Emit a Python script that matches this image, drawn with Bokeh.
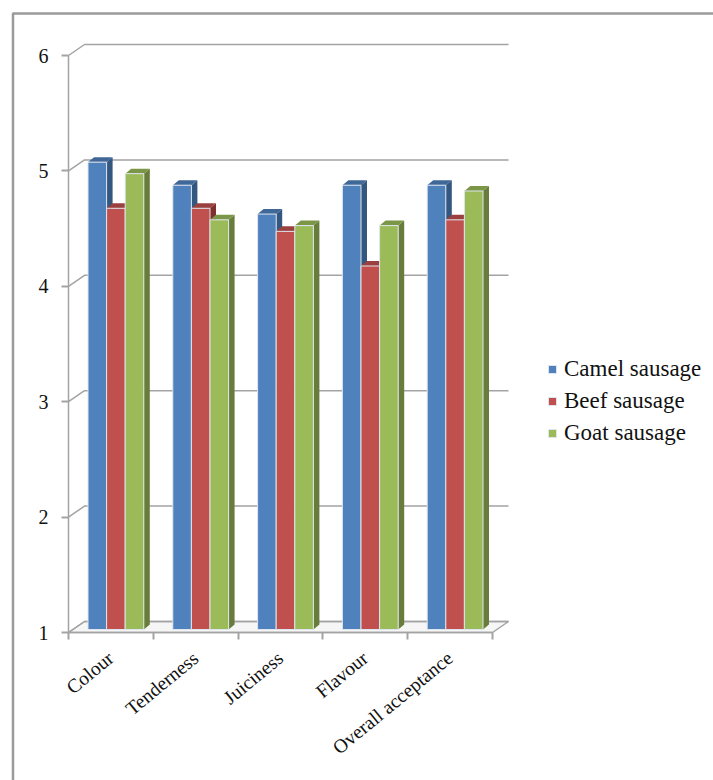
from bokeh.embed import file_html
from bokeh.models import ColumnDataSource, FixedTicker, Legend, LegendItem, Range1d
from bokeh.plotting import figure
from bokeh.resources import INLINE

# Sensory scores per attribute
categories = ["Colour", "Tenderness", "Juiciness", "Flavour", "Overall acceptance"]
camel = [5.05, 4.85, 4.6, 4.85, 4.85]
beef = [4.65, 4.65, 4.45, 4.15, 4.55]
goat = [4.95, 4.55, 4.5, 4.5, 4.8]
series_names = ["Camel sausage", "Beef sausage", "Goat sausage"]
value_ticks = [1, 2, 3, 4, 5, 6]

W, H = 713, 780
X0, UX = 68, 84.8      # pixel of category 0 and pixels per category
Y1, UY = 632, 115.4    # pixel of value 1 and pixels per value unit
WALL_DX, WALL_DY = 16, 11   # perspective shift of the back wall
BAR_DX, BAR_DY = 6, 5       # visible depth of a bar
BAR_LIFT = 3                # bars stand slightly inside the floor
GRID = "#a3a3a3"
FONT = "Liberation Serif"


def sx(px):
    return (px - X0) / UX


def sy(py):
    return 1 + (Y1 - py) / UY


dx = lambda px: px / UX
dy = lambda px: px / UY

p = figure(width=W, height=H, output_backend="svg", toolbar_location=None,
           x_range=Range1d(sx(0), sx(W)), y_range=Range1d(sy(H), sy(0)),
           min_border=0, outline_line_color=None, background_fill_color="white",
           border_fill_color="white")
p.xgrid.visible = False
p.ygrid.visible = False

# Page frame
p.line([sx(12.5), sx(12.5), sx(W)], [sy(H), sy(13), sy(13)], line_color="#9a9a9a", line_width=2.5)

# Floor of the 3D box
n = len(categories)
wx, wy = dx(WALL_DX), dy(WALL_DY)
p.patch([0, n, n + wx, wx], [1, 1, 1 + wy, 1 + wy], fill_color="#f6f6f6",
        line_color=GRID, line_width=1.5)

# Back wall gridlines and the short diagonals on the side wall
for v in value_ticks:
    p.line([0, wx, n + wx], [v, v + wy, v + wy], line_color=GRID, line_width=1.5)

# Bars: side and top faces first, then the front face
colors = [
    ("#4f81bd", "#34577f", "#3f6797"),
    ("#c0504d", "#7f2f2d", "#9a403e"),
    ("#9bbb59", "#687d3b", "#7c9647"),
]
bar_w = 18.6 / UX
start = 19.5 / UX
lift = dy(BAR_LIFT)
base = 1 + lift
bx, by = dx(BAR_DX), dy(BAR_DY)
fronts = []
for s, (vals, (front, side, top)) in enumerate(zip([camel, beef, goat], colors)):
    lefts = [i + start + s * bar_w for i in range(n)]
    rights = [l + bar_w for l in lefts]
    tops = [v + lift for v in vals]
    side_xs = [[r, r + bx, r + bx, r] for r in rights]
    side_ys = [[base, base + by, t + by, t] for t in tops]
    top_xs = [[l, l + bx, r + bx, r] for l, r in zip(lefts, rights)]
    top_ys = [[t, t + by, t + by, t] for t in tops]
    p.patches(side_xs, side_ys, fill_color=side, line_color=None)
    p.patches(top_xs, top_ys, fill_color=top, line_color=None)
    src = ColumnDataSource(dict(left=lefts, right=rights, top=tops, bottom=[base] * n))
    fronts.append(p.quad(left="left", right="right", top="top", bottom="bottom", source=src,
                         fill_color=front, line_color="#dfe5ee", line_width=1))

# Value axis
yax = p.yaxis[0]
yax.fixed_location = 0
yax.bounds = (1, 6)
yax.ticker = FixedTicker(ticks=value_ticks)
yax.axis_line_color = GRID
yax.axis_line_width = 1.5
yax.major_tick_line_color = GRID
yax.major_tick_line_width = 2
yax.major_tick_out = 7
yax.major_tick_in = 0
yax.minor_tick_line_color = None
yax.major_label_text_font = FONT
yax.major_label_text_font_size = "20px"
yax.major_label_text_color = "#111111"
yax.major_label_standoff = 13

# Category axis: ticks between groups, labels at group centres
xax = p.xaxis[0]
xax.fixed_location = 1
xax.bounds = (0, n)
xax.ticker = FixedTicker(ticks=[i + 0.5 for i in range(n)], minor_ticks=list(range(n + 1)))
xax.major_label_overrides = {i + 0.5: c for i, c in enumerate(categories)}
xax.major_label_orientation = 0.69
xax.major_label_text_font = FONT
xax.major_label_text_font_size = "19.5px"
xax.major_label_text_color = "#111111"
xax.major_label_standoff = 16
xax.axis_line_color = GRID
xax.axis_line_width = 1.5
xax.major_tick_line_color = None
xax.minor_tick_line_color = GRID
xax.minor_tick_line_width = 2
xax.minor_tick_out = 7
xax.minor_tick_in = 0

legend = Legend(
    items=[LegendItem(label=name, renderers=[r]) for name, r in zip(series_names, fronts)],
    location=(547, 334), orientation="vertical", background_fill_alpha=0, border_line_color=None,
    padding=0, margin=0, spacing=6, glyph_width=10, glyph_height=10, label_height=24,
    label_standoff=7, label_text_font=FONT, label_text_font_size="23px",
    label_text_color="#111111",
)
p.add_layout(legend, "center")

open("out.html", "w").write(file_html(p, INLINE))
